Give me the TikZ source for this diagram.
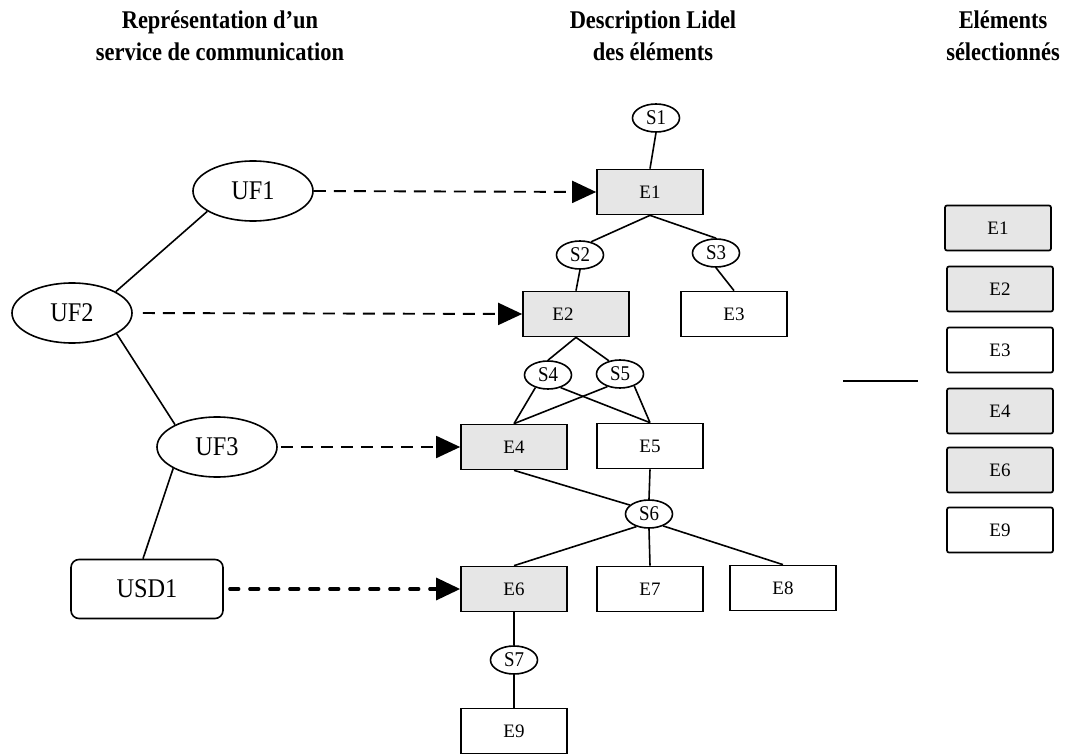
\documentclass[tikz,border=0pt]{standalone}
\usepackage{fontspec}
\setmainfont{Liberation Serif}
\newfontfamily\headfont[FakeStretch=0.88]{Liberation Serif}
\newfontfamily\narrowfont[FakeStretch=0.9]{Liberation Serif}
\usetikzlibrary{shapes.geometric,arrows.meta}
\definecolor{selgray}{HTML}{E6E6E6}

\begin{document}
\begin{tikzpicture}[x=1pt,y=-1pt,
  every node/.style={inner sep=0pt},
  head/.style={align=center,font=\headfont\bfseries\fontsize{25.5}{32}\selectfont},
  uf/.style={ellipse,draw,line width=1.6pt,minimum width=120pt,minimum height=60pt,
    font=\narrowfont\fontsize{27}{30}\selectfont},
  usd/.style={rectangle,rounded corners=8pt,draw,line width=1.6pt,minimum width=152pt,
    minimum height=59pt,font=\narrowfont\fontsize{27}{30}\selectfont},
  elem/.style={rectangle,draw,line width=1.7pt,minimum width=106pt,minimum height=45pt,
    font=\fontsize{19}{20}\selectfont},
  elemsel/.style={elem,fill=selgray},
  pick/.style={elem,rounded corners=2pt},
  picksel/.style={pick,fill=selgray},
  sig/.style={ellipse,draw,line width=1.6pt,minimum width=47pt,minimum height=28pt,
    font=\narrowfont\fontsize{21}{22}\selectfont},
  link/.style={line width=1.6pt},
  map/.style={line width=1.9pt,dash pattern=on 12pt off 8pt,
    -{Triangle[length=24pt,width=22pt]}},
  mapbold/.style={line width=3.2pt,line cap=round,dash pattern=on 9pt off 11pt,
    -{Triangle[length=24pt,width=22pt]}},
]
\useasboundingbox (0,0) rectangle (1065,754);

% column headings
\node[head] (h1) at (220,36) {Représentation d’un\\service de communication};
\node[head] (h2) at (653,36) {Description Lidel\\des éléments};
\node[head] (h3) at (1003,36) {Eléments\\sélectionnés};

% communication service
\node[uf] (uf1) at (253,191) {UF1};
\node[uf] (uf2) at (72,313) {UF2};
\node[uf] (uf3) at (217,447) {UF3};
\node[usd] (usd1) at (147,589) {USD1};

\draw[link] (uf1.204) -- (uf2.26);
\draw[link] (uf2.335) -- (uf3.152);
\draw[link] (uf3.206) -- ([xshift=-4pt]usd1.north);

% Lidel element tree
\node[sig] (s1) at (656,118) {S1};
\node[elemsel] (e1) at (650,192) {E1};
\node[sig] (s2) at (580,255) {S2};
\node[sig] (s3) at (716,253) {S3};
\node[elemsel] (e2) at (576,314) {E2\hspace*{26pt}};
\node[elem] (e3) at (734,314) {E3};
\node[sig] (s4) at (548,375) {S4};
\node[sig] (s5) at (620,374) {S5};
\node[elemsel] (e4) at (514,447) {E4};
\node[elem] (e5) at (650,446) {E5};
\node[sig] (s6) at (649,514) {S6};
\node[elemsel] (e6) at (514,589) {E6};
\node[elem] (e7) at (650,589) {E7};
\node[elem] (e8) at (783,588) {E8};
\node[sig] (s7) at (514,660) {S7};
\node[elem] (e9) at (514,731) {E9};

\draw[link] (s1.south) -- (e1.north);
\draw[link] (e1.south) -- (s2.50);
\draw[link] (e1.south) -- (s3.north);
\draw[link] (s2.south) -- (e2.north);
\draw[link] (s3.south) -- (e3.north);
\draw[link] (e2.south) -- (s4.north);
\draw[link] (e2.south) -- (s5.130);
\draw[link] (s4.225) -- (e4.north);
\draw[link] (s5.225) -- (e4.north);
\draw[link] (s4.315) -- (e5.north);
\draw[link] (s5.320) -- (e5.north);
\draw[link] (e4.south) -- (s6.155);
\draw[link] (e5.south) -- (s6.north);
\draw[link] (s6.225) -- (e6.north);
\draw[link] (s6.south) -- (e7.north);
\draw[link] (s6.320) -- (e8.north);
\draw[link] (e6.south) -- (s7.north);
\draw[link] (s7.south) -- (e9.north);

% mappings from the service to the elements
\draw[map] (uf1.east) -- (e1.west);
\draw[map,shorten <=10pt] (uf2.east) -- (e2.west);
\draw[map,shorten <=3pt] (uf3.east) -- (e4.west);
\draw[mapbold,shorten <=6pt] (usd1.east) -- (e6.west);

% selected elements
\coordinate (la) at (843,381);
\coordinate (lb) at (918,381);
\draw[link] (la) -- (lb);

\node[picksel] (r1) at (998,228) {E1};
\node[picksel] (r2) at (1000,289) {E2};
\node[pick] (r3) at (1000,350) {E3};
\node[picksel] (r4) at (1000,411) {E4};
\node[picksel] (r6) at (1000,470) {E6};
\node[pick] (r9) at (1000,530) {E9};
\end{tikzpicture}
\end{document}
